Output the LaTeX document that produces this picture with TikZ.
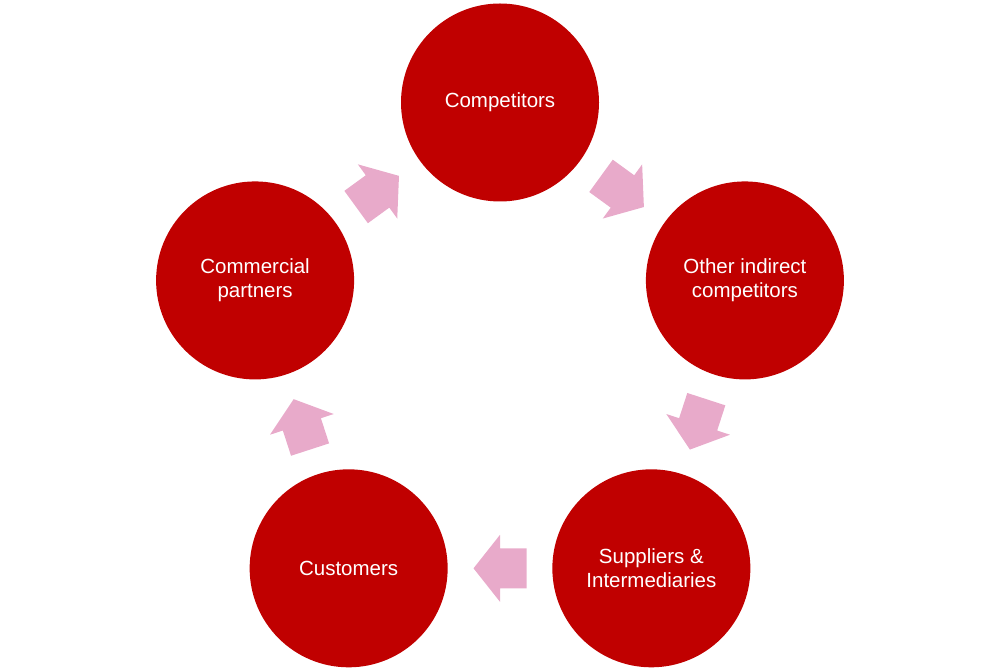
\documentclass[tikz,border=0pt]{standalone}
\usepackage{fontspec}
\setmainfont{Liberation Sans}
\usetikzlibrary{calc}
\definecolor{circred}{RGB}{192,0,0}
\definecolor{arrpink}{RGB}{232,170,202}
\tikzset{
  bubble/.style={circle, fill=circred, draw=none, minimum size=198pt, inner sep=0pt,
    text=white, align=center, font=\fontsize{20.5}{23.5}\selectfont},
  blockarrow/.style={fill=arrpink, draw=none}
}
\newcommand{\cyclearrow}[3]{%
  \path ($(#1)!0.5!(#2)$) coordinate (m#1#2);
  \begin{scope}[shift={(m#1#2)}, rotate=#3]
    \fill[blockarrow] (-26.5,-20) -- (0,-20) -- (0,-33.5) -- (26.5,0) -- (0,33.5) -- (0,20) -- (-26.5,20) -- cycle;
  \end{scope}}
\begin{document}
\begin{tikzpicture}[x=1pt,y=1pt]
\useasboundingbox (0,0) rectangle (1000,671);
\coordinate (c) at (500,311);
\node[bubble] (comp) at ($(c)+(90:257.5)$) {Competitors};
\node[bubble] (oth) at ($(c)+(18:257.5)$) {Other indirect\\competitors};
\node[bubble] (sup) at ($(c)+(-54:257.5)$) {Suppliers \&\\Intermediaries};
\node[bubble] (cus) at ($(c)+(-126:257.5)$) {Customers};
\node[bubble] (cpa) at ($(c)+(162:257.5)$) {Commercial\\partners};
\cyclearrow{comp}{oth}{-36}
\cyclearrow{oth}{sup}{-108}
\cyclearrow{sup}{cus}{180}
\cyclearrow{cus}{cpa}{108}
\cyclearrow{cpa}{comp}{36}
\end{tikzpicture}
\end{document}
